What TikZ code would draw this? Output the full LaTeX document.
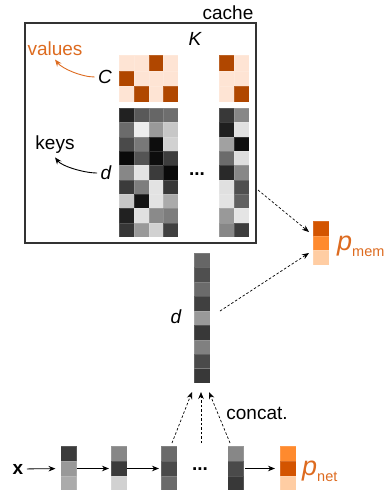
\documentclass[tikz,border=0pt]{standalone}
\usepackage{fontspec}
\setmainfont{Liberation Sans}
\usetikzlibrary{arrows.meta}
\definecolor{valLight}{HTML}{FEE4D4}
\definecolor{valDark}{HTML}{B04700}
\definecolor{pDark}{HTML}{D35400}
\definecolor{pMid}{HTML}{FF8A2E}
\definecolor{pLight}{HTML}{FFCDA3}
\definecolor{txtOrange}{HTML}{DD6B20}
\tikzset{every node/.style={font=\fontsize{19}{22}\selectfont},
  cell/.style={draw=white, draw opacity=0.15, line width=0.2pt},
  vec/.style={inner sep=0pt, outer sep=0pt, minimum width=16pt},
  >={Stealth[length=7pt,width=5.5pt]},
  dotarrow/.style={->, dash pattern=on 2.5pt off 2pt, line width=0.7pt},
  solidarrow/.style={->, line width=0.8pt, shorten >=2pt},
  plabel/.style={txtOrange, inner sep=0pt}}

\begin{document}
\begin{tikzpicture}[x=1pt,y=-1pt]
  \useasboundingbox (0,0) rectangle (388,490);
  % cache
  \node[draw=black!80, line width=1.2pt, inner sep=0pt, minimum width=231pt, minimum height=220pt] (cachebox) at (140.5,133) {};
  \node (cachelbl) at (228,13) {cache};
  \node (K) at (195,39) {\itshape K};
  \foreach \row [count=\r from 0] in {{valLight,valLight,valDark,valLight},{valDark,valLight,valLight,valLight},{valLight,valDark,valLight,valDark}}
    \foreach \col [count=\i from 0] in \row
      \filldraw[cell, fill=\col] ({119+14.8*\i},{55+15.7*\r}) rectangle +(14.8,15.7);
  \foreach \row [count=\r from 0] in {{valDark,valLight},{valLight,valLight},{valLight,valDark}}
    \foreach \col [count=\i from 0] in \row
      \filldraw[cell, fill=\col] ({219+14.8*\i},{55+15.7*\r}) rectangle +(14.8,15.7);
  \foreach \row [count=\r from 0] in {{87,65,60,57},{58,7,40,22},{71,53,95,18},{96,67,95,76},{47,11,77,96},{77,51,11,78},{22,92,11,33},{87,12,46,51},{79,40,18,75}}
    \foreach \g [count=\i from 0] in \row
      \filldraw[cell, fill=black!\g] ({119+14.8*\i},{108+14.33*\r}) rectangle +(14.8,14.33);
  \foreach \row [count=\r from 0] in {{78,47},{88,12},{37,94},{58,13},{84,47},{12,69},{11,62},{40,10},{47,76}}
    \foreach \g [count=\i from 0] in \row
      \filldraw[cell, fill=black!\g] ({219+14.8*\i},{108+14.33*\r}) rectangle +(14.8,14.33);
  \node (C) at (105,77) {\itshape C};
  \node (dkeys) at (106,173) {\itshape d};
  \node[inner sep=0pt] (kdots) at (197,174) {\textbf{...}};
  \node[txtOrange] (values) at (55,49) {values};
  \node (keys) at (55,145) {keys};
  \draw[->, txtOrange, line width=0.9pt] (C.west) .. controls +(-13,0) and +(7,9) .. (values.south);
  \draw[->, line width=0.9pt] (dkeys.west) .. controls +(-13,0) and +(7,9) .. (keys.south);
  \coordinate (kout) at (258,190);

  % query vector
  \node[vec, minimum height=130pt] (mid) at (202,318) {};
  \foreach \g [count=\i from 0] in {60,69,58,75,40,78,50,71,78}
    \filldraw[cell, fill=black!\g] (194,{253+14.44*\i}) rectangle +(16,14.44);
  \node (dmid) at (176,317) {\itshape d};

  % p_mem
  \node[vec, minimum height=44pt] (pmem) at (321,243) {};
  \foreach \col [count=\i from 0] in {pDark,pMid,pLight}
    \filldraw[cell, fill=\col] (313,{221+14.67*\i}) rectangle +(16,14.67);
  \node[plabel, anchor=base west] (pmemlbl) at ([shift={(8pt,-7pt)}]pmem.east)
    {{\fontsize{27}{27}\selectfont\itshape p}\raisebox{-6pt}{\fontsize{14.5}{16}\selectfont mem}};
  \draw[dotarrow] (kout) -- ([shift={(-4pt,11pt)}]pmem.west);
  \draw[dotarrow] ([shift={(10pt,7pt)}]mid.east) -- ([shift={(-4pt,-10pt)}]pmem.west);

  % network
  \node (xin) at (18,469) {\bfseries x};
  \node[vec, minimum height=45pt] (h1) at (68.5,468.5) {};
  \foreach \g [count=\i from 0] in {77,40,33}
    \filldraw[cell, fill=black!\g] (60.5,{446+15*\i}) rectangle +(16,15);
  \node[vec, minimum height=45pt] (h2) at (119,468.5) {};
  \foreach \g [count=\i from 0] in {47,77,18}
    \filldraw[cell, fill=black!\g] (111,{446+15*\i}) rectangle +(16,15);
  \node[vec, minimum height=45pt] (h3) at (169,468.5) {};
  \foreach \g [count=\i from 0] in {58,71,58}
    \filldraw[cell, fill=black!\g] (161,{446+15*\i}) rectangle +(16,15);
  \node[inner sep=0pt] (hdots) at (200,469) {\textbf{...}};
  \node[vec, minimum height=45pt] (h4) at (235.5,468.5) {};
  \foreach \g [count=\i from 0] in {47,71,78}
    \filldraw[cell, fill=black!\g] (227.5,{446+15*\i}) rectangle +(16,15);
  \node[vec, minimum height=45pt] (pnet) at (288,468.5) {};
  \foreach \col [count=\i from 0] in {pMid,pDark,pLight}
    \filldraw[cell, fill=\col] (280,{446+15*\i}) rectangle +(16,15);
  \node[plabel, anchor=base west] (pnetlbl) at ([shift={(6pt,-7pt)}]pnet.east)
    {{\fontsize{27}{27}\selectfont\itshape p}\raisebox{-6pt}{\fontsize{14.5}{16}\selectfont net}};
  \draw[solidarrow, shorten >=5pt] (xin) -- (h1);
  \draw[solidarrow] (h1) -- (h2);
  \draw[solidarrow] (h2) -- (h3);
  \draw[solidarrow, shorten <=1.5pt, shorten >=5pt] (h4) -- (pnet);

  % concat
  \coordinate (hgap) at (201,443);
  \draw[dotarrow] ([shift={(3pt,3pt)}]h3.north) -- ([shift={(-10pt,-9pt)}]mid.south);
  \draw[dotarrow] (hgap) -- ([shift={(-1pt,-9pt)}]mid.south);
  \draw[dotarrow] ([shift={(-5.5pt,3pt)}]h4.north) -- ([shift={(7pt,-9pt)}]mid.south);
  \node (concat) at (257,413) {concat.};
\end{tikzpicture}
\end{document}
